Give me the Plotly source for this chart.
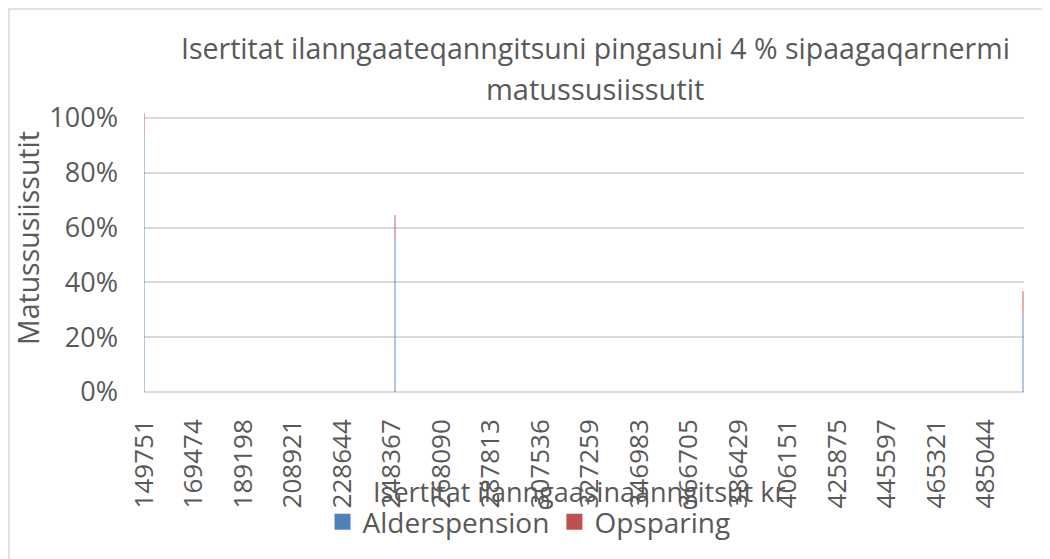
import plotly.graph_objects as go

# ---- data ----
income_cats = [149751, 249700, 499900]          # only the columns that are visible
alderspension = [0.935, 0.561, 0.280]
opsparing = [0.085, 0.085, 0.088]

tick_values = [149751, 169474, 189198, 208921, 228644, 248367, 268090, 287813,
               307536, 327259, 346983, 366705, 386429, 406151, 425875, 445597,
               465321, 485044]
tick_labels = [str(v) for v in tick_values]

series_names = ["Alderspension", "Opsparing"]
series_colors = ["#4F81BD", "#C0504D"]

title_line1 = "Isertitat ilanngaateqanngitsuni pingasuni 4 % sipaagaqarnermi"
title_line2 = "matussusiissutit"
x_title = "Isertitat ilanngaasinaanngitsut kr"
y_title = "Matussusiissutit"

FONT = "Open Sans"
TXT = "#595959"
GRID = "#d9d9d9"

# the page body has an 8px margin, so positions are given in page pixels
# and shifted by OFF into figure pixels
OFF = 8
W, H = 1050, 559
PL, PR, PT, PB = 144, 1024, 112, 392          # plot area in page pixels
L, T = PL - OFF, PT - OFF
R, B = W - (PR - OFF), H - (PB - OFF)
pw, ph = PR - PL, PB - PT


def px(x):
    return (x - PL) / pw


def py(y):
    return (PB - y) / ph


fig = go.Figure()
for name, vals, col in zip(series_names, [alderspension, opsparing], series_colors):
    fig.add_trace(go.Bar(x=income_cats, y=vals, name=name, width=420,
                         marker=dict(color=col, line=dict(width=0)),
                         opacity=0.45, showlegend=False, legendgroup=name))
    # legend entry with a solid square like the reference
    fig.add_trace(go.Scatter(x=[None], y=[None], mode="markers", name=name,
                             legendgroup=name,
                             marker=dict(symbol="square", size=18, color=col)))

fig.update_layout(
    width=W, height=H,
    margin=dict(l=L, r=R, t=T, b=B, autoexpand=False),
    paper_bgcolor="white", plot_bgcolor="white",
    barmode="stack", bargap=0,
    font=dict(family=FONT, color=TXT),
    showlegend=True,
    legend=dict(orientation="h", x=px(529), y=py(522), xanchor="center",
                yanchor="middle", font=dict(size=28, color=TXT),
                itemclick=False, bgcolor="rgba(0,0,0,0)", traceorder="normal",
                itemwidth=30),
    xaxis=dict(range=[149631, 500223], tickmode="array", tickvals=tick_values,
               ticktext=tick_labels, tickangle=-90, showgrid=False,
               zeroline=False, showline=False, ticks="",
               tickfont=dict(size=26, color=TXT, family=FONT),
               ticklabelstandoff=21),
    yaxis=dict(range=[0, 1.022], tickmode="linear", tick0=0, dtick=0.2,
               tickformat=".0%", showgrid=True, gridcolor=GRID, gridwidth=1.5,
               zeroline=True, zerolinecolor=GRID, zerolinewidth=1.5,
               showline=False, ticks="",
               tickfont=dict(size=27, color=TXT, family=FONT),
               ticklabelstandoff=25),
)

annotations = [
    dict(text=title_line1, x=px(595), y=py(48), xref="paper", yref="paper",
         xanchor="center", yanchor="middle", showarrow=False,
         font=dict(size=28.5, color=TXT, family=FONT)),
    dict(text=title_line2, x=px(595), y=py(88), xref="paper", yref="paper",
         xanchor="center", yanchor="middle", showarrow=False,
         font=dict(size=29, color=TXT, family=FONT)),
    dict(text=x_title, x=px(579), y=py(491), xref="paper", yref="paper",
         xanchor="center", yanchor="middle", showarrow=False,
         font=dict(size=27, color=TXT, family=FONT)),
    dict(text=y_title, x=px(28), y=py(238), xref="paper", yref="paper",
         xanchor="center", yanchor="middle", showarrow=False, textangle=-90,
         font=dict(size=28.5, color=TXT, family=FONT)),
]
fig.update_layout(annotations=annotations)

# outer chart border (its bottom edge lies below the visible window, as in the reference)
fig.add_shape(type="rect", xref="paper", yref="paper",
              x0=px(OFF + 1), x1=px(1045), y0=py(580), y1=py(OFF + 1),
              line=dict(color=GRID, width=1.5), fillcolor="rgba(0,0,0,0)",
              layer="below")

fig.write_html("out.html")
